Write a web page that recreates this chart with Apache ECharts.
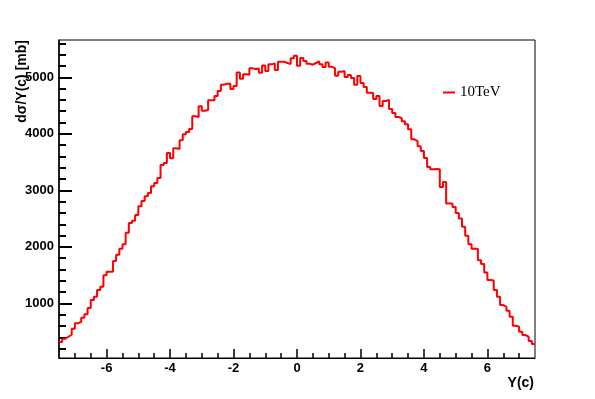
<!DOCTYPE html>
<html lang="en">
  <head>
    <meta charset="UTF-8" />
    <title>dsigma / Y(c)</title>
    <style>
      html, body { margin: 0; padding: 0; background: #fff; }
    </style>
  </head>
  <body>
    <div id="main" style="width: 595px; height: 399px;"></div>

    <script src="https://cdn.jsdelivr.net/npm/echarts@6.0.0/dist/echarts.min.js"></script>
    <script>
      // histogram: 150 bins of 0.1 from -7.5 to 7.5
      let binLow = -7.5
      let binWidth = 0.1
      let counts = [
        316, 375, 410, 445, 551, 647, 675, 746, 806, 917,
        1058, 1117, 1235, 1294, 1500, 1559, 1559, 1748, 1859, 1965,
        2048, 2248, 2424, 2460, 2566, 2719, 2813, 2896, 2954, 3073,
        3131, 3220, 3449, 3485, 3661, 3568, 3744, 3733, 3886, 3992,
        4032, 4085, 4310, 4298, 4486, 4410, 4421, 4592, 4592, 4668,
        4757, 4870, 4887, 4887, 4792, 4845, 5087, 4976, 5052, 5046,
        5158, 5146, 5158, 5082, 5211, 5110, 5229, 5246, 5128, 5276,
        5276, 5253, 5234, 5335, 5382, 5205, 5340, 5287, 5241, 5223,
        5253, 5282, 5229, 5181, 5264, 5187, 5158, 5029, 5100, 5110,
        5004, 5040, 4987, 4870, 5022, 4898, 4827, 4728, 4722, 4615,
        4668, 4492, 4580, 4598, 4439, 4368, 4297, 4280, 4221, 4168,
        4080, 3903, 3873, 3780, 3697, 3573, 3414, 3373, 3377, 3373,
        3061, 3149, 2767, 2767, 2707, 2601, 2502, 2354, 2195, 2048,
        1965, 1965, 1765, 1695, 1548, 1412, 1406, 1235, 1117, 970,
        940, 869, 763, 604, 587, 498, 440, 410, 334, 281
      ]
      let seriesName = '10TeV'

      // axis ticks / labels
      let xMajor = [-6, -4, -2, 0, 2, 4, 6]
      let xMinor = [-7, -6.5, -6, -5.5, -5, -4.5, -4, -3.5, -3, -2.5, -2, -1.5, -1, -0.5, 0,
        0.5, 1, 1.5, 2, 2.5, 3, 3.5, 4, 4.5, 5, 5.5, 6, 6.5, 7]
      let yMajor = [1000, 2000, 3000, 4000, 5000]
      let yMinor = [200, 400, 600, 800, 1000, 1200, 1400, 1600, 1800, 2000, 2200, 2400, 2600,
        2800, 3000, 3200, 3400, 3600, 3800, 4000, 4200, 4400, 4600, 4800, 5000, 5200, 5400, 5600]
      let xRange = [-7.5, 7.5]
      let yRange = [34, 5660]

      // step points at the low edge of each bin, plus the last upper edge
      let histData = counts.map((v, i) => [+(binLow + i * binWidth).toFixed(2), v])
      histData.push([xRange[1], counts[counts.length - 1]])

      let labelFont = {
        color: '#000',
        fontFamily: 'Liberation Sans',
        fontWeight: 'bold',
        fontSize: 13,
        formatter: v => String(v)
      }

      let myChart = echarts.init(document.getElementById('main'))
      let option = {
        animation: false,
        backgroundColor: '#fff',
        grid: {
          left: 59,
          right: 60,
          top: 40,
          bottom: 41,
          show: true,
          borderColor: '#000',
          borderWidth: 1,
          outerBoundsMode: 'none'
        },
        legend: {
          left: 443,
          top: 85,
          padding: 0,
          icon: 'rect',
          itemWidth: 12,
          itemHeight: 2,
          textStyle: { fontFamily: 'Liberation Serif', fontSize: 15, color: '#000' },
          data: [seriesName]
        },
        xAxis: [
          {
            type: 'value',
            min: xRange[0],
            max: xRange[1],
            position: 'bottom',
            axisLine: { onZero: false, lineStyle: { color: '#000', width: 1 } },
            axisTick: { inside: true, length: 9, customValues: xMajor, lineStyle: { color: '#000', width: 1.5 } },
            axisLabel: Object.assign({ margin: 4, customValues: xMajor }, labelFont),
            splitLine: { show: false }
          },
          {
            // minor ticks only
            type: 'value',
            min: xRange[0],
            max: xRange[1],
            position: 'bottom',
            offset: 0,
            axisLine: { show: false, onZero: false },
            axisTick: { show: true, inside: true, length: 5, customValues: xMinor, lineStyle: { color: '#000', width: 1.5 } },
            axisLabel: { show: false },
            splitLine: { show: false }
          }
        ],
        yAxis: [
          {
            type: 'value',
            min: yRange[0],
            max: yRange[1],
            position: 'left',
            axisLine: { show: true, onZero: false, lineStyle: { color: '#000', width: 1.5 } },
            axisTick: { show: true, inside: true, length: 13, customValues: yMajor, lineStyle: { color: '#000', width: 2 } },
            axisLabel: Object.assign({ margin: 5, customValues: yMajor }, labelFont),
            splitLine: { show: false }
          },
          {
            // minor ticks only
            type: 'value',
            min: yRange[0],
            max: yRange[1],
            position: 'left',
            offset: 0,
            axisLine: { show: false, onZero: false },
            axisTick: { show: true, inside: true, length: 7, customValues: yMinor, lineStyle: { color: '#000', width: 2 } },
            axisLabel: { show: false },
            splitLine: { show: false }
          }
        ],
        graphic: [
          {
            type: 'text',
            x: 534,
            y: 376,
            style: {
              text: 'Y(c)',
              align: 'right',
              verticalAlign: 'top',
              font: 'bold 14px "Liberation Sans"',
              fill: '#000'
            }
          },
          {
            type: 'text',
            x: 22,
            y: 40,
            rotation: Math.PI / 2,
            style: {
              text: 'dσ/Y(c) [mb]',
              align: 'right',
              verticalAlign: 'middle',
              font: 'bold 14px "Liberation Sans"',
              fill: '#000'
            }
          }
        ],
        series: [
          {
            name: seriesName,
            type: 'line',
            xAxisIndex: 0,
            yAxisIndex: 0,
            step: 'end',
            showSymbol: false,
            symbol: 'none',
            color: '#ff0000',
            lineStyle: { color: '#ff0000', width: 2 },
            data: histData
          }
        ]
      }
      myChart.setOption(option)
    </script>
  </body>
</html>
